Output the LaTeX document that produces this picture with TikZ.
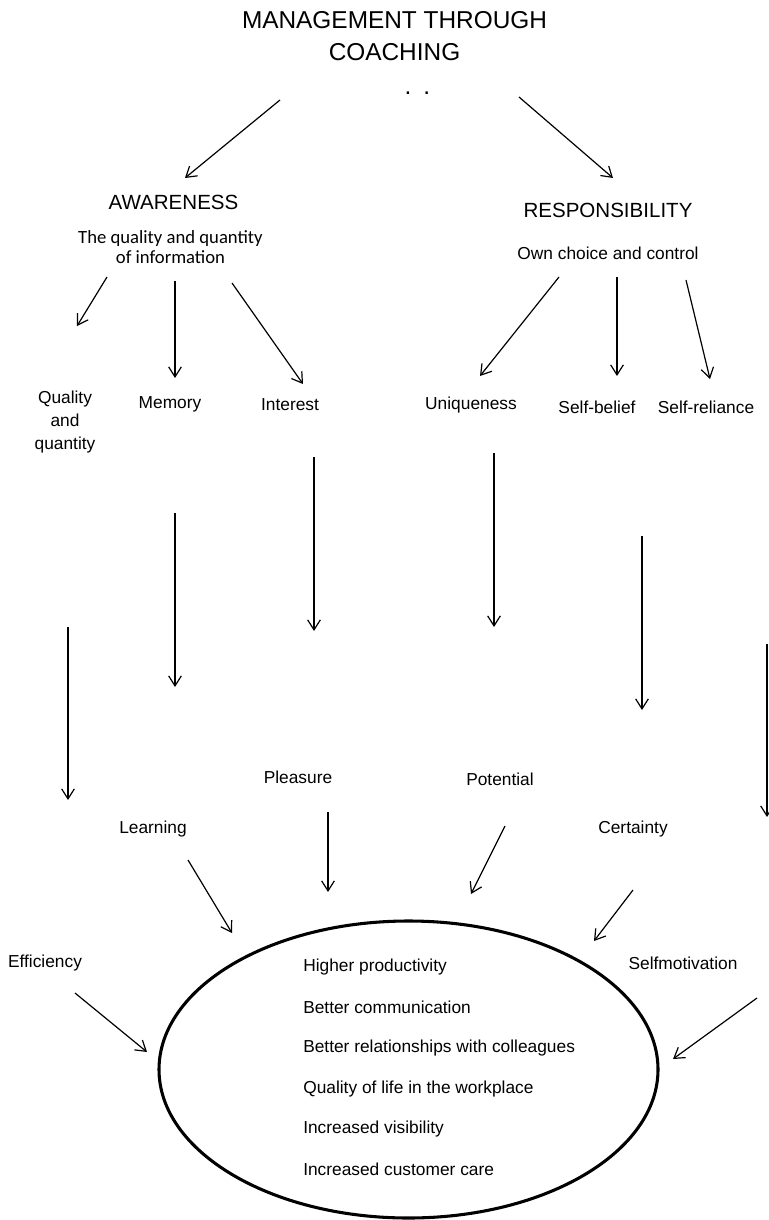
\documentclass[tikz,border=0pt]{standalone}
\usepackage{fontspec}
\setmainfont{Liberation Sans}
\newfontfamily\calibrifont{Carlito}
\usetikzlibrary{arrows.meta,shapes.geometric}

\begin{document}
\begin{tikzpicture}[x=0.75pt, y=-0.75pt,
  lbl/.style={inner sep=0pt, align=center, font=\fontsize{13}{17.25}\selectfont},
  head/.style={inner sep=0pt, font=\fontsize{15.4}{18}\selectfont},
  item/.style={inner sep=0pt, anchor=west, font=\fontsize{13}{15}\selectfont},
  arr/.style={-{Straight Barb[length=7.5pt,width=9.5pt]}, line width=0.9pt}]
\useasboundingbox (0,0) rectangle (768,1220);
\node[inner sep=0pt, align=center, font=\fontsize{18.3}{24}\selectfont] (title) at (394.5,36) {MANAGEMENT THROUGH\\COACHING};
\node[inner sep=0pt, font=\fontsize{18.3}{24}\selectfont] (dots) at (417.5,93) {.\hspace{9pt}.};
\node[head] (aware) at (173.5,202) {AWARENESS};
\node[head] (resp) at (608,210) {RESPONSIBILITY};
\node[inner sep=0pt, align=center, font=\calibrifont\fontsize{14}{15}\selectfont] (info) at (170.5,247) {The quality and quantity\\of information};
\node[lbl] (choice) at (608,253) {Own choice and control};
\node[lbl] (qual) at (65,422) {Quality\\and\\quantity};
\node[lbl] (mem) at (170,404) {Memory};
\node[lbl] (inter) at (290,405) {Interest};
\node[lbl] (uniq) at (471,405) {Uniqueness};
\node[lbl] (belief) at (597,407) {Self-belief};
\node[lbl] (reli) at (706,407) {Self-reliance};
\node[lbl] (pleas) at (298,777) {Pleasure};
\node[lbl] (pot) at (500,779) {Potential};
\node[lbl] (learn) at (153,829) {Learning};
\node[lbl] (cert) at (633,829) {Certainty};
\node[lbl] (effic) at (45,963) {Efficiency};
\node[lbl] (motiv) at (683,963) {Selfmotivation};
\node[ellipse, draw, line width=2.3pt, inner sep=0pt, minimum width=374.25pt, minimum height=222.75pt] (goal) at (408.5,1069.5) {};
\node[item] (prod) at (303,967) {Higher productivity};
\node[item] (comm) at (303,1007) {Better communication};
\node[item] (rel) at (303,1048) {Better relationships with colleagues};
\node[item] (life) at (303,1089) {Quality of life in the workplace};
\node[item] (vis) at (303,1129) {Increased visibility};
\node[item] (care) at (303,1169) {Increased customer care};
% arrow ends
\coordinate (ta) at (280,100);  \coordinate (tb) at (185,178);
\coordinate (tc) at (519,97);   \coordinate (td) at (613,178);
\coordinate (qa) at (107,277);  \coordinate (qb) at (77,326);
\coordinate (ma) at (175,281);  \coordinate (mb) at (175,378);
\coordinate (ia) at (232,283);  \coordinate (ib) at (303,384);
\coordinate (ua) at (559,277);  \coordinate (ub) at (480,376);
\coordinate (ba) at (617,277);  \coordinate (bb) at (617,376);
\coordinate (ra) at (686,280);  \coordinate (rb) at (710,379);
\coordinate (ea) at (68,627);   \coordinate (eb) at (68,800);
\coordinate (la) at (175,513);  \coordinate (lb) at (175,687);
\coordinate (pa) at (314,457);  \coordinate (pb) at (314,631);
\coordinate (oa) at (494,453);  \coordinate (ob) at (494,627);
\coordinate (ca) at (642,536);  \coordinate (cb) at (642,710);
\coordinate (sa) at (767,644);  \coordinate (sb) at (767,817);
\coordinate (pc) at (328,812);  \coordinate (pd) at (328,892);
\coordinate (oc) at (505,826);  \coordinate (od) at (471,894);
\coordinate (lc) at (188,860);  \coordinate (ld) at (232,933);
\coordinate (cc) at (633,890);  \coordinate (cd) at (594,941);
\coordinate (ec) at (75,993);   \coordinate (ed) at (147,1052);
\coordinate (sc) at (757,998);  \coordinate (sd) at (673,1059);
\draw[arr] (ta) -- (tb);
\draw[arr] (tc) -- (td);
\draw[arr] (qa) -- (qb);
\draw[arr] (ma) -- (mb);
\draw[arr] (ia) -- (ib);
\draw[arr] (ua) -- (ub);
\draw[arr] (ba) -- (bb);
\draw[arr] (ra) -- (rb);
\draw[arr] (ea) -- (eb);
\draw[arr] (la) -- (lb);
\draw[arr] (pa) -- (pb);
\draw[arr] (oa) -- (ob);
\draw[arr] (ca) -- (cb);
\draw[arr] (sa) -- (sb);
\draw[arr] (pc) -- (pd);
\draw[arr] (oc) -- (od);
\draw[arr] (lc) -- (ld);
\draw[arr] (cc) -- (cd);
\draw[arr] (ec) -- (ed);
\draw[arr] (sc) -- (sd);
\end{tikzpicture}
\end{document}
